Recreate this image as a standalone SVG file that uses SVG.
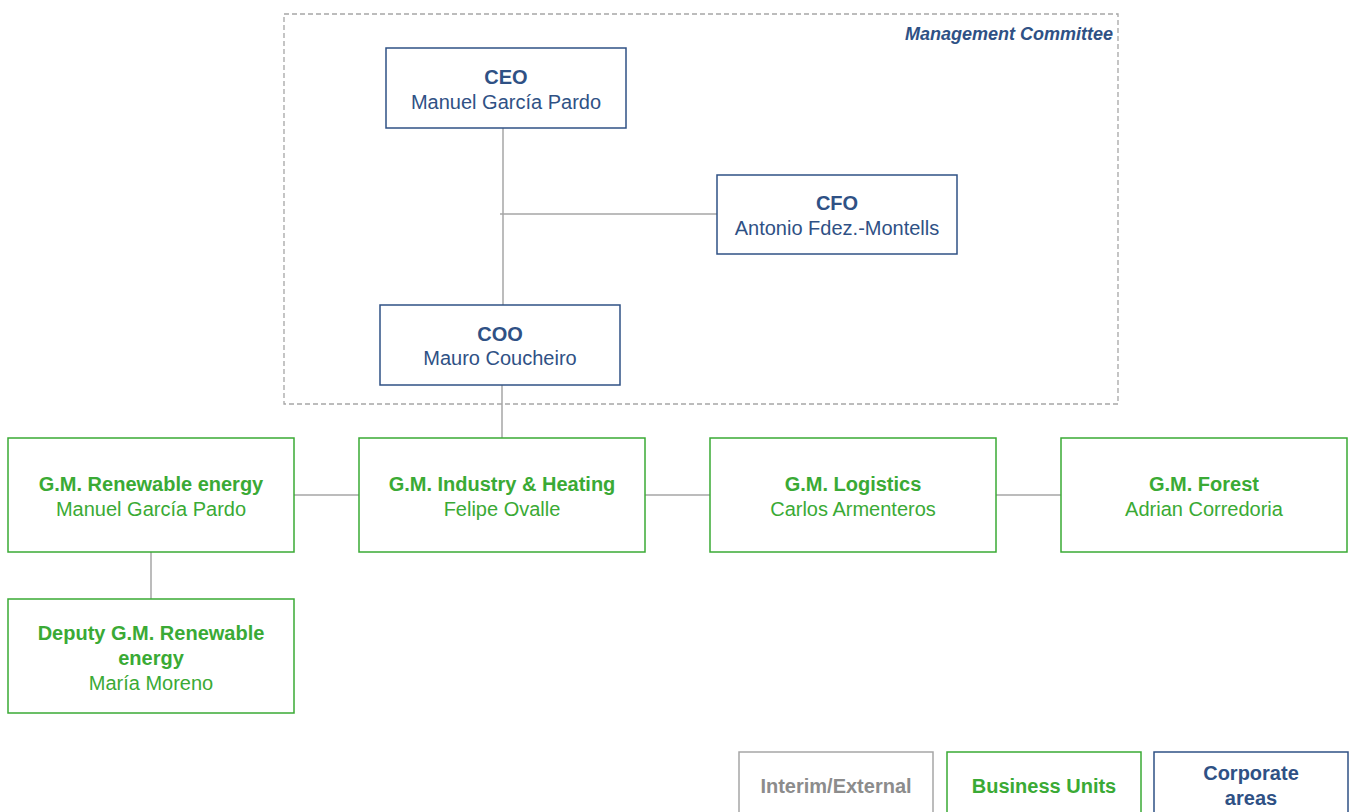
<svg xmlns="http://www.w3.org/2000/svg" width="1356" height="812" viewBox="0 0 1356 812">
<style>
text{font-family:"Liberation Sans",Arial,sans-serif;font-size:20px;text-anchor:middle}
.b{font-weight:bold}
.navy rect{fill:#fff;stroke:#2f5185;stroke-width:1.5}
.navy text{fill:#2f5185}
.green rect{fill:#fff;stroke:#3aaa35;stroke-width:1.5}
.green text{fill:#3aaa35}
.gray rect{fill:#fff;stroke:#a6a6a6;stroke-width:1.5}
.gray text{fill:#8c8c8c}
.conn line{stroke:#a6a6a6;stroke-width:1.5}
</style>
<rect width="1356" height="812" fill="#fff"/>
<g id="management-committee">
<rect x="284" y="14" width="834" height="390" fill="none" stroke="#a6a6a6" stroke-width="1.3" stroke-dasharray="5,3"/>
<text x="1113" y="40" style="text-anchor:end;font-weight:bold;font-style:italic;font-size:18px;fill:#2f5185">Management Committee</text>
</g>
<g id="connectors" class="conn">
<line x1="503" y1="128" x2="503" y2="305"/>
<line x1="500" y1="214" x2="717" y2="214"/>
<line x1="502" y1="385" x2="502" y2="438"/>
<line x1="294" y1="495" x2="359" y2="495"/>
<line x1="645" y1="495" x2="710" y2="495"/>
<line x1="996" y1="495" x2="1061" y2="495"/>
<line x1="151" y1="552" x2="151" y2="599"/>
</g>
<g id="ceo" class="navy">
<rect x="386" y="48" width="240" height="80"/>
<text x="506" y="84" class="b">CEO</text>
<text x="506" y="109">Manuel García Pardo</text>
</g>
<g id="cfo" class="navy">
<rect x="717" y="175" width="240" height="79"/>
<text x="837" y="210" class="b">CFO</text>
<text x="837" y="235">Antonio Fdez.-Montells</text>
</g>
<g id="coo" class="navy">
<rect x="380" y="305" width="240" height="80"/>
<text x="500" y="341" class="b">COO</text>
<text x="500" y="365">Mauro Coucheiro</text>
</g>
<g id="gm-renewable" class="green">
<rect x="8" y="438" width="286" height="114"/>
<text x="151" y="491" class="b">G.M. Renewable energy</text>
<text x="151" y="516">Manuel García Pardo</text>
</g>
<g id="gm-industry" class="green">
<rect x="359" y="438" width="286" height="114"/>
<text x="502" y="491" class="b">G.M. Industry &amp; Heating</text>
<text x="502" y="516">Felipe Ovalle</text>
</g>
<g id="gm-logistics" class="green">
<rect x="710" y="438" width="286" height="114"/>
<text x="853" y="491" class="b">G.M. Logistics</text>
<text x="853" y="516">Carlos Armenteros</text>
</g>
<g id="gm-forest" class="green">
<rect x="1061" y="438" width="286" height="114"/>
<text x="1204" y="491" class="b">G.M. Forest</text>
<text x="1204" y="516">Adrian Corredoria</text>
</g>
<g id="deputy-gm-renewable" class="green">
<rect x="8" y="599" width="286" height="114"/>
<text x="151" y="640" class="b">Deputy G.M. Renewable</text>
<text x="151" y="665" class="b">energy</text>
<text x="151" y="690">María Moreno</text>
</g>
<g id="legend-interim" class="gray">
<rect x="739" y="752" width="194" height="70"/>
<text x="836" y="793" class="b">Interim/External</text>
</g>
<g id="legend-business" class="green">
<rect x="947" y="752" width="194" height="70"/>
<text x="1044" y="793" class="b">Business Units</text>
</g>
<g id="legend-corporate" class="navy">
<rect x="1154" y="752" width="194" height="70"/>
<text x="1251" y="780" class="b">Corporate</text>
<text x="1251" y="805" class="b">areas</text>
</g>
</svg>
